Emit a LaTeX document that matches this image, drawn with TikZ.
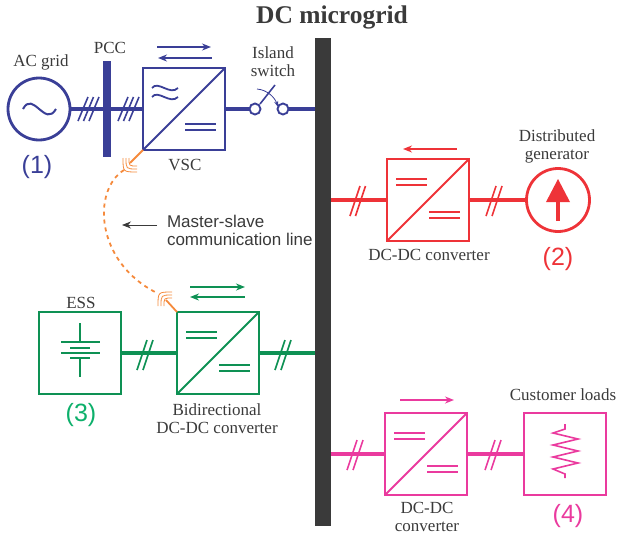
\documentclass[tikz,border=0pt]{standalone}
\usepackage{fontspec}
\setmainfont{Liberation Serif}
\setsansfont{Liberation Sans}
\usetikzlibrary{calc,arrows.meta}

\definecolor{vscblue}{HTML}{3A3F97}
\definecolor{dgred}{HTML}{EE3338}
\definecolor{essgreen}{HTML}{0E9154}
\definecolor{numgreen}{HTML}{0DB06B}
\definecolor{loadpink}{HTML}{EA3A9E}
\definecolor{commorange}{HTML}{F58A3C}
\definecolor{labelgray}{HTML}{3A3A3A}

\tikzset{
  conv/.style={draw, line width=2pt, minimum width=82pt, minimum height=82pt, inner sep=0pt, outer sep=0pt},
  source/.style={draw, circle, line width=2.8pt, minimum size=62pt, inner sep=0pt, outer sep=0pt},
  swpin/.style={draw=vscblue, circle, line width=1.9pt, minimum size=11pt, inner sep=0pt, outer sep=0pt},
  feeder/.style={line width=3.4pt},
  lab/.style={text=labelgray, font=\fontsize{17}{18}\selectfont, align=center},
  num/.style={font=\sffamily\fontsize{25}{28}\selectfont},
}

% double bars and diagonal of a DC-DC box
\newcommand{\dcbars}[2]{
  \draw[#2, line width=1.8pt] (#1.south west) -- (#1.north east);
  \foreach \yy in {20,26} \draw[#2, line width=1.8pt] ($(#1.north west)+(9,\yy)$) -- ($(#1.north west)+(40,\yy)$);
  \foreach \yy in {53,59} \draw[#2, line width=1.8pt] ($(#1.north west)+(42,\yy)$) -- ($(#1.north west)+(73,\yy)$);
}
% slashes over a feeder
\newcommand{\feedslash}[4]{
  \foreach \xx in {#3} \draw[#1, line width=1.6pt] (\xx-5,#2+#4) -- (\xx+5,#2-#4);
}
% little arcs at the end of the comm line
\newcommand{\radiowave}[3]{
  \foreach \rr in {8,11,14} \draw[commorange, line width=0.8pt] ($(#1)+(#2*\rr,0)$) .. controls ($(#1)+(#2*\rr,#3*\rr)$) .. ($(#1)+(0,#3*\rr)$);
}

\begin{document}
\begin{tikzpicture}[>={Stealth[length=9pt,width=7pt]}, x=1pt, y=-1pt]
  \useasboundingbox (0,0) rectangle (617,535);
  % Nodes
  \node[fill=labelgray, minimum width=16pt, minimum height=488pt, inner sep=0pt, outer sep=0pt](bus) at (323,282) {};
  \node[font=\bfseries\fontsize{25.5}{28}\selectfont, text=labelgray](title) at (332,17) {DC microgrid};

  \node[source, draw=vscblue](grid) at (39,109) {};
  \node[fill=vscblue, minimum width=8pt, minimum height=96pt, inner sep=0pt, outer sep=0pt](pcc) at (107,109) {};
  \node[conv, draw=vscblue](vsc) at (184,109) {};
  \node[swpin](swa) at (255,109) {};
  \node[swpin](swb) at (283,109) {};

  \node[conv, draw=dgred](dgconv) at (428,200) {};
  \node[source, draw=dgred, minimum size=63pt](dg) at (558,200) {};

  \node[conv, draw=essgreen](ess) at (80,353) {};
  \node[conv, draw=essgreen](essconv) at (218,353) {};

  \node[conv, draw=loadpink](loadconv) at (426,454) {};
  \node[conv, draw=loadpink](load) at (565,454) {};

  % Labels
  \node[lab](aclab) at (41,62) {AC grid};
  \node[lab](pcclab) at (110,48) {PCC};
  \node[lab](swlab) at (273,62) {Island\\switch};
  \node[lab](vsclab) at (185,165) {VSC};
  \node[num, text=vscblue](n1) at (37,167) {(1)};
  \node[lab](dglab) at (557,146) {Distributed\\generator};
  \node[lab](dgconvlab) at (429,255) {DC-DC converter};
  \node[num, text=dgred](n2) at (558,259) {(2)};
  \node[lab, font=\sffamily\fontsize{17}{18}\selectfont, align=left, anchor=west](mslab) at (163.5,230) {Master-slave\\communication line};
  \node[lab](esslab) at (81,303) {ESS};
  \node[num, text=numgreen](n3) at (81,415) {(3)};
  \node[lab](essconvlab) at (217,419) {Bidirectional\\DC-DC converter};
  \node[lab, inner sep=0pt](loadconvlab) at (427,517) {DC-DC\\converter};
  \node[lab](loadlab) at (563,395) {Customer loads};
  \node[num, text=loadpink](n4) at (568,516) {(4)};

  % Feeders
  \draw[feeder, vscblue] (grid.east) -- (vsc.west);
  \draw[feeder, vscblue] (vsc.east) -- (swa.west);
  \draw[feeder, vscblue] (swb.east) -- (swb.east -| bus.west);
  \draw[feeder, dgred] (dgconv.west) -- (dgconv.west -| bus.east);
  \draw[feeder, dgred] (dgconv.east) -- (dg.west);
  \draw[feeder, essgreen] (ess.east) -- (essconv.west);
  \draw[feeder, essgreen] (essconv.east) -- (essconv.east -| bus.west);
  \draw[feeder, loadpink] (loadconv.west) -- (loadconv.west -| bus.east);
  \draw[feeder, loadpink] (loadconv.east) -- (load.west);

  \feedslash{vscblue}{109}{83,88.5,94}{12}
  \feedslash{vscblue}{109}{123,128.5,134}{12}
  \feedslash{dgred}{201}{355,360.5}{15}
  \feedslash{dgred}{201}{491,497}{15}
  \feedslash{essgreen}{355}{142,148}{15}
  \feedslash{essgreen}{355}{280,286}{15}
  \feedslash{loadpink}{455}{352,358}{15}
  \feedslash{loadpink}{455}{490,496}{15}

  % Inside the boxes
  \draw[vscblue, line width=1.8pt] (vsc.south west) -- (vsc.north east);
  \foreach \yy in {124,130} \draw[vscblue, line width=1.8pt] (185,\yy) -- (216,\yy);
  \foreach \yy in {88,97} \draw[vscblue, line width=1.8pt] (152,\yy) .. controls (158,\yy-8) and (170,\yy+8) .. (178,\yy);
  \draw[vscblue, line width=2pt] (23,109) .. controls (33,90) and (45,128) .. (56,109);
  \dcbars{dgconv}{dgred}
  \dcbars{essconv}{essgreen}
  \dcbars{loadconv}{loadpink}

  % Switch
  \draw[vscblue, line width=1.6pt] (260,104) -- (275,85);
  \draw[-{Stealth[length=6pt,width=4pt]}, vscblue, line width=0.8pt] (257,89) .. controls (268,90) and (275,98) .. (278,107);

  % Generator arrow
  \draw[dgred, line width=4pt] (558,221) -- (558,195);
  \fill[dgred] (558,179) -- (570,202) -- (546,202) -- cycle;

  % Battery
  \draw[essgreen, line width=1.8pt] (80,323) -- (80,342);
  \draw[essgreen, line width=1.8pt] (61,342) -- (100,342);
  \draw[essgreen, line width=1.8pt] (70,348) -- (90,348);
  \draw[essgreen, line width=1.8pt] (61,353) -- (100,353);
  \draw[essgreen, line width=1.8pt] (70,358) -- (90,358);
  \draw[essgreen, line width=1.8pt] (80,358) -- (80,377);

  % Resistor
  \draw[loadpink, line width=1.6pt] (565,424) -- (565,429) -- (553,433) -- (578,439) -- (553,445) -- (578,451) -- (553,457) -- (578,463) -- (553,469) -- (565,474) -- (565,478);

  % Power flow arrows
  \draw[->, vscblue, line width=1.5pt] (157,47) -- (211,47);
  \draw[<-, vscblue, line width=1.5pt] (158,58) -- (212,58);
  \draw[<-, dgred, line width=1.5pt] (403,149) -- (457,149);
  \draw[->, essgreen, line width=1.5pt] (190,287) -- (245,287);
  \draw[<-, essgreen, line width=1.5pt] (190,297) -- (245,297);
  \draw[->, loadpink, line width=1.5pt] (400,400) -- (454,400);

  % Communication line
  \coordinate (vscend) at (130,163);
  \coordinate (essend) at (166,300);
  \draw[commorange, line width=1.8pt] (vsc.south west) -- (vscend);
  \draw[commorange, line width=1.8pt] (essconv.north west) -- (essend);
  \radiowave{137,158}{-1}{1}
  \radiowave{172,306}{-1}{-1}
  \draw[commorange, line width=1.8pt, dash pattern=on 4pt off 4pt] (124,170) .. controls (92,190) and (95,262) .. (157,293);
  \coordinate (ptrtail) at (157,225);
  \coordinate (ptrtip) at (122,225);
  \draw[->, labelgray, line width=0.8pt] (ptrtail) -- (ptrtip);
\end{tikzpicture}
\end{document}
